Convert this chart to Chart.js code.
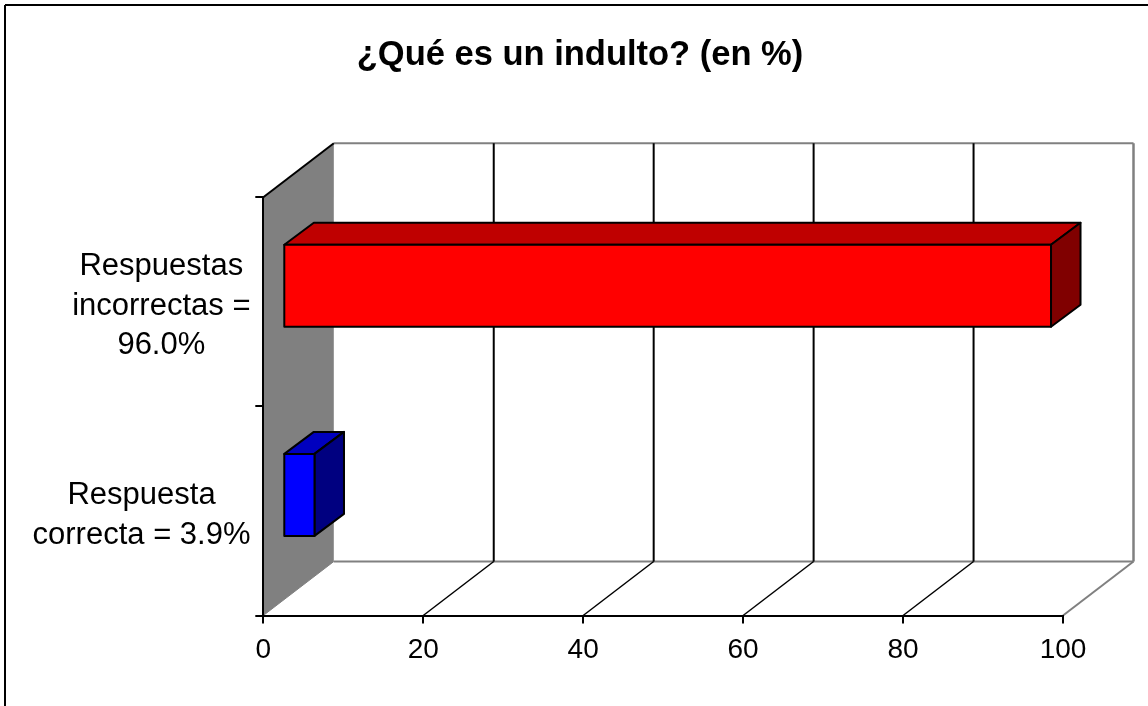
<!DOCTYPE html>
<html>
<head>
<meta charset="utf-8">
<title>¿Qué es un indulto?</title>
<style>
    html, body { margin: 0; padding: 0; background: #fff; overflow: hidden; }
    #wrap { width: 1148px; height: 706px; }
</style>
<script src="https://cdn.jsdelivr.net/npm/chart.js@4/dist/chart.umd.min.js"></script>
</head>
<body>
<div id="wrap"><canvas id="indultoChart"></canvas></div>
<script>
const categories = [["Respuestas", "incorrectas =", "96.0%"], ["Respuesta", "correcta = 3.9%"]];
const percentages = [96.0, 3.9];
const chartTitle = "¿Qué es un indulto? (en %)";
const axisMin = 0;
const axisMax = 100;
const axisStep = 20;

// fake 3D depth of the walls and of the bars
const wallDx = 70.5, wallDy = -54;
const barShiftX = 20, barShiftY = -16;
const barDx = 29.5, barDy = -22;

const frontColors = ["#ff0000", "#0000ff"];
const topColors = ["#bf0000", "#0000bf"];
const sideColors = ["#800000", "#000080"];

function strokeLine(ctx, x1, y1, x2, y2, color, width) {
    ctx.strokeStyle = color;
    ctx.lineWidth = width;
    ctx.beginPath();
    ctx.moveTo(x1, y1);
    ctx.lineTo(x2, y2);
    ctx.stroke();
}

function fillFace(ctx, points, color) {
    ctx.fillStyle = color;
    ctx.strokeStyle = "#000";
    ctx.lineWidth = 2;
    ctx.lineJoin = "round";
    ctx.beginPath();
    points.forEach((p, i) => (i ? ctx.lineTo(p[0], p[1]) : ctx.moveTo(p[0], p[1])));
    ctx.closePath();
    ctx.fill();
    ctx.stroke();
}

const depthPlugin = {
    id: "depth",
    beforeDraw(chart) {
        const ctx = chart.ctx;
        const { left, right, top, bottom } = chart.chartArea;
        const xs = chart.scales.x;
        ctx.save();
        ctx.fillStyle = "#fff";
        ctx.fillRect(0, 0, chart.width, chart.height);

        // outer frame, only top and left are in the picture
        strokeLine(ctx, 5, 5, chart.width, 5, "#000", 2);
        strokeLine(ctx, 5, 5, 5, chart.height, "#000", 2);

        // left wall
        ctx.fillStyle = "#808080";
        ctx.beginPath();
        ctx.moveTo(left, top);
        ctx.lineTo(left + wallDx, top + wallDy);
        ctx.lineTo(left + wallDx, bottom + wallDy);
        ctx.lineTo(left, bottom);
        ctx.closePath();
        ctx.fill();

        // back wall and floor outline
        strokeLine(ctx, left + wallDx, top + wallDy, right + wallDx, top + wallDy, "#808080", 2);
        strokeLine(ctx, left + wallDx, bottom + wallDy, right + wallDx, bottom + wallDy, "#808080", 2);
        strokeLine(ctx, right + wallDx, top + wallDy, right + wallDx, bottom + wallDy, "#808080", 2.5);
        strokeLine(ctx, right, bottom, right + wallDx, bottom + wallDy, "#808080", 2);
        strokeLine(ctx, left, bottom, left + wallDx, bottom + wallDy, "#808080", 1);
        strokeLine(ctx, left, top, left + wallDx, top + wallDy, "#000", 2);

        // gridlines run across the floor and then up the back wall
        xs.ticks.forEach((tick) => {
            if (tick.value === axisMin || tick.value === axisMax) return;
            const x = xs.getPixelForValue(tick.value);
            strokeLine(ctx, x, bottom, x + wallDx, bottom + wallDy, "#000", 1.5);
            strokeLine(ctx, x + wallDx, bottom + wallDy, x + wallDx, top + wallDy, "#000", 2);
        });
        ctx.restore();
    },
    beforeDatasetDraw(chart, args) {
        const ctx = chart.ctx;
        const bars = chart.getDatasetMeta(args.index).data;
        ctx.save();
        ctx.translate(barShiftX, barShiftY);
        bars.forEach((bar, i) => {
            const top = bar.y - bar.height / 2;
            const bottom = bar.y + bar.height / 2;
            fillFace(ctx, [[bar.base, top], [bar.base + barDx, top + barDy], [bar.x + barDx, top + barDy], [bar.x, top]], topColors[i]);
            fillFace(ctx, [[bar.x, top], [bar.x + barDx, top + barDy], [bar.x + barDx, bottom + barDy], [bar.x, bottom]], sideColors[i]);
        });
    },
    afterDatasetDraw(chart, args) {
        // outline of the front face goes on top, centred on the bar edge
        const ctx = chart.ctx;
        ctx.strokeStyle = "#000";
        ctx.lineWidth = 2;
        chart.getDatasetMeta(args.index).data.forEach((bar) => {
            ctx.strokeRect(bar.base, bar.y - bar.height / 2, bar.x - bar.base, bar.height);
        });
        ctx.restore();
    },
    afterDraw(chart) {
        // category labels are centred line by line, right edge against the axis
        const ctx = chart.ctx;
        const ys = chart.scales.y;
        const lineHeight = 39.3;
        ctx.save();
        ctx.font = '31px "Liberation Sans"';
        ctx.fillStyle = "#000";
        ctx.textAlign = "center";
        ctx.textBaseline = "alphabetic";
        categories.forEach((lines, i) => {
            const widest = Math.max(...lines.map((line) => ctx.measureText(line).width));
            const cx = 250.5 - widest / 2;
            const cy = ys.getPixelForTick(i) + 13;
            lines.forEach((line, n) => {
                ctx.fillText(line, cx, cy + (n - (lines.length - 1) / 2) * lineHeight);
            });
        });
        ctx.restore();
    },
};

Chart.defaults.font.family = '"Liberation Sans"';
Chart.defaults.color = "#000";

new Chart(document.getElementById("indultoChart"), {
    type: "bar",
    data: {
        labels: categories,
        datasets: [
            {
                data: percentages,
                backgroundColor: frontColors,
                borderWidth: 0,
                barThickness: 82,
                clip: false,
            },
        ],
    },
    options: {
        indexAxis: "y",
        responsive: true,
        maintainAspectRatio: false,
        animation: false,
        layout: { padding: { left: 97, right: 85 } },
        plugins: {
            legend: { display: false },
            tooltip: { enabled: false },
            title: {
                display: true,
                text: chartTitle,
                color: "#000",
                font: { size: 34.5, weight: "bold" },
                padding: { top: 35, bottom: 120.8 },
            },
        },
        scales: {
            x: {
                type: "linear",
                min: axisMin,
                max: axisMax,
                afterFit: (scale) => { scale.height = 90.5; },
                grid: { drawOnChartArea: false, color: "#000", lineWidth: 2, tickLength: 8 },
                border: { color: "#000", width: 2 },
                ticks: { stepSize: axisStep, font: { size: 28 }, padding: 10, maxRotation: 0, autoSkip: false },
            },
            y: {
                afterFit: (scale) => { scale.width = 166.3; },
                grid: { drawOnChartArea: false, color: "#000", lineWidth: 2, tickLength: 8 },
                border: { color: "#000", width: 2 },
                ticks: { display: false },
            },
        },
    },
    plugins: [depthPlugin],
});
</script>
</body>
</html>
